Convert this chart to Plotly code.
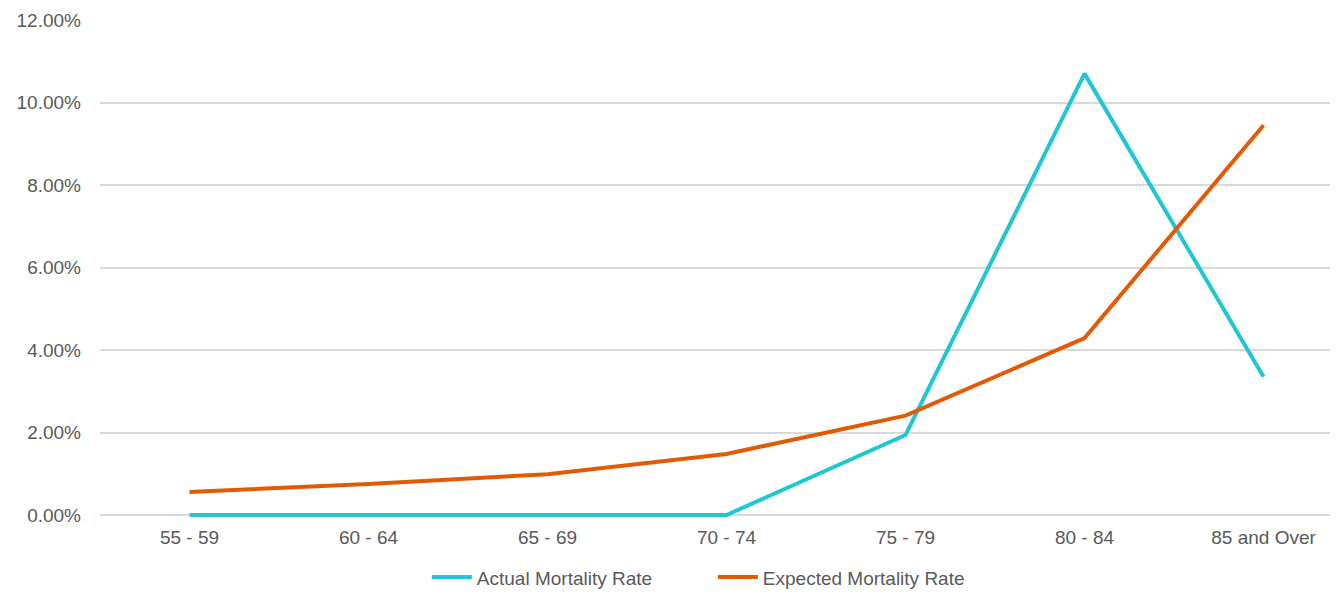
import plotly.graph_objects as go

categories = ["55 - 59", "60 - 64", "65 - 69", "70 - 74", "75 - 79", "80 - 84", "85 and Over"]
actual_rate = [0.0, 0.0, 0.0, 0.0, 0.0194, 0.1070, 0.0335]
expected_rate = [0.0056, 0.0075, 0.0099, 0.0148, 0.0241, 0.0429, 0.0945]
y_ticks = [0, 0.02, 0.04, 0.06, 0.08, 0.10, 0.12]

fig = go.Figure()
fig.add_trace(go.Scatter(x=list(range(len(categories))), y=actual_rate, mode="lines",
                         name="Actual Mortality Rate", cliponaxis=False,
                         line=dict(color="#21C6D3", width=4)))
fig.add_trace(go.Scatter(x=list(range(len(categories))), y=expected_rate, mode="lines",
                         name="Expected Mortality Rate", cliponaxis=False,
                         line=dict(color="#E15A05", width=4)))

font = dict(family="Liberation Sans, Arial, sans-serif", size=19, color="#595959")
fig.update_layout(
    width=1330, height=584,
    margin=dict(l=92, r=0, t=12, b=75, autoexpand=False),
    plot_bgcolor="white", paper_bgcolor="white",
    font=font,
    showlegend=True,
    legend=dict(orientation="h", x=0.264, xanchor="left", y=-0.083, yanchor="top",
                font=font, itemwidth=40, tracegroupgap=0,
                entrywidth=231, entrywidthmode="pixels"),
    xaxis=dict(range=[-0.5, 6.416], tickmode="array", automargin=False,
               tickvals=list(range(len(categories))), ticktext=categories,
               showgrid=False, zeroline=False, showline=False, ticks="",
               ticklabelstandoff=7),
    yaxis=dict(range=[-0.000485, 0.12], tickmode="array", tickvals=y_ticks, automargin=False,
               tickformat=".2%", showgrid=True, gridcolor="#D9D9D9", gridwidth=2,
               zeroline=False, showline=False, ticks="", ticklabelstandoff=18),
)
fig.write_html("out.html")
